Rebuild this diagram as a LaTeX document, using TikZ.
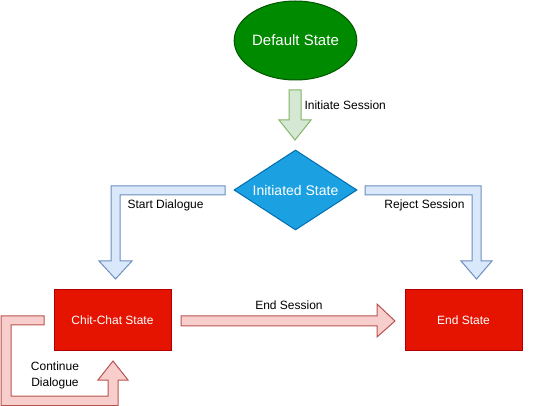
\documentclass[tikz,border=0pt]{standalone}
\usepackage{fontspec}
\setmainfont{Liberation Sans}
\usepackage{xcolor}
\usepackage{tikz}
\usetikzlibrary{calc,shapes,arrows,positioning,arrows.meta}

\definecolor{defgreen}{HTML}{008A00}
\definecolor{defgreenline}{HTML}{005700}
\definecolor{initblue}{HTML}{1BA1E2}
\definecolor{initblueline}{HTML}{006EAF}
\definecolor{statered}{HTML}{E51400}
\definecolor{stateredline}{HTML}{B20000}
\definecolor{arrgreen}{HTML}{D5E8D4}
\definecolor{arrgreenline}{HTML}{82B366}
\definecolor{arrblue}{HTML}{DAE8FC}
\definecolor{arrblueline}{HTML}{6C8EBF}
\definecolor{arrred}{HTML}{F8CECC}
\definecolor{arrredline}{HTML}{B85450}

\begin{document}
\begin{tikzpicture}[x=1pt,y=-1pt,line width=1pt,
        statebox/.style={draw=stateredline,fill=statered,text=white,minimum width=117pt,minimum height=61pt,inner sep=0pt,font=\fontsize{12pt}{14pt}\selectfont},
        lbl/.style={inner sep=0pt,font=\fontsize{12pt}{14pt}\selectfont},
        greenarr/.style={draw=arrgreenline,fill=arrgreen,line join=miter},
        bluearr/.style={draw=arrblueline,fill=arrblue,line join=miter},
        redarr/.style={draw=arrredline,fill=arrred,line join=miter}]
        %\draw [help lines] (0,0) grid (536,406);
        \useasboundingbox (0,0) rectangle (536,406);

        \node[draw=defgreenline,fill=defgreen,ellipse,text=white,minimum width=119pt,minimum height=79pt,inner sep=0pt,font=\fontsize{15pt}{17pt}\selectfont] (default) at (295.5,40.5) {Default State};
        \node[draw=initblueline,fill=initblue,diamond,aspect=1.54,text=white,minimum width=123pt,minimum height=80pt,inner sep=0pt,font=\fontsize{14pt}{16pt}\selectfont] (initiated) at (295.5,190) {Initiated State};
        \node[statebox] (chitchat) at (112.5,320.5) {Chit-Chat State};
        \node[statebox] (endstate) at (463.5,320.5) {End State};

        % block arrows
        \draw[greenarr] (289,90) -- (301,90) -- (301,120) -- (311,120) -- (295,140) -- (279,120) -- (289,120) -- cycle;
        \draw[bluearr] (225,186) -- (225,195) -- (120,195) -- (120,261) -- (132,261) -- (115.5,279) -- (99,261) -- (111,261) -- (111,186) -- cycle;
        \draw[bluearr] (365,186) -- (481,186) -- (481,261) -- (492,261) -- (476.5,279) -- (461,261) -- (472,261) -- (472,195) -- (365,195) -- cycle;
        \draw[redarr] (181,316) -- (377,316) -- (377,304) -- (395,321) -- (377,337) -- (377,326) -- (181,326) -- cycle;
        \draw[redarr] (44,316) -- (1,316) -- (1,405.5) -- (118,405.5) -- (118,380) -- (128,380) -- (113,361) -- (98,380) -- (108,380) -- (108,396) -- (11,396) -- (11,325) -- (44,325) -- cycle;

        \node[lbl,anchor=west] (initlbl) at (304,105) {Initiate Session};
        \node[lbl,anchor=west] (startlbl) at (127,205) {Start Dialogue};
        \node[lbl] (rejectlbl) at (424.5,205) {Reject Session};
        \node[lbl] (endlbl) at (289,305) {End Session};
        \node[lbl,align=center] (contlbl) at (55,375) {Continue\\[2pt]Dialogue};
    \end{tikzpicture}
\end{document}
